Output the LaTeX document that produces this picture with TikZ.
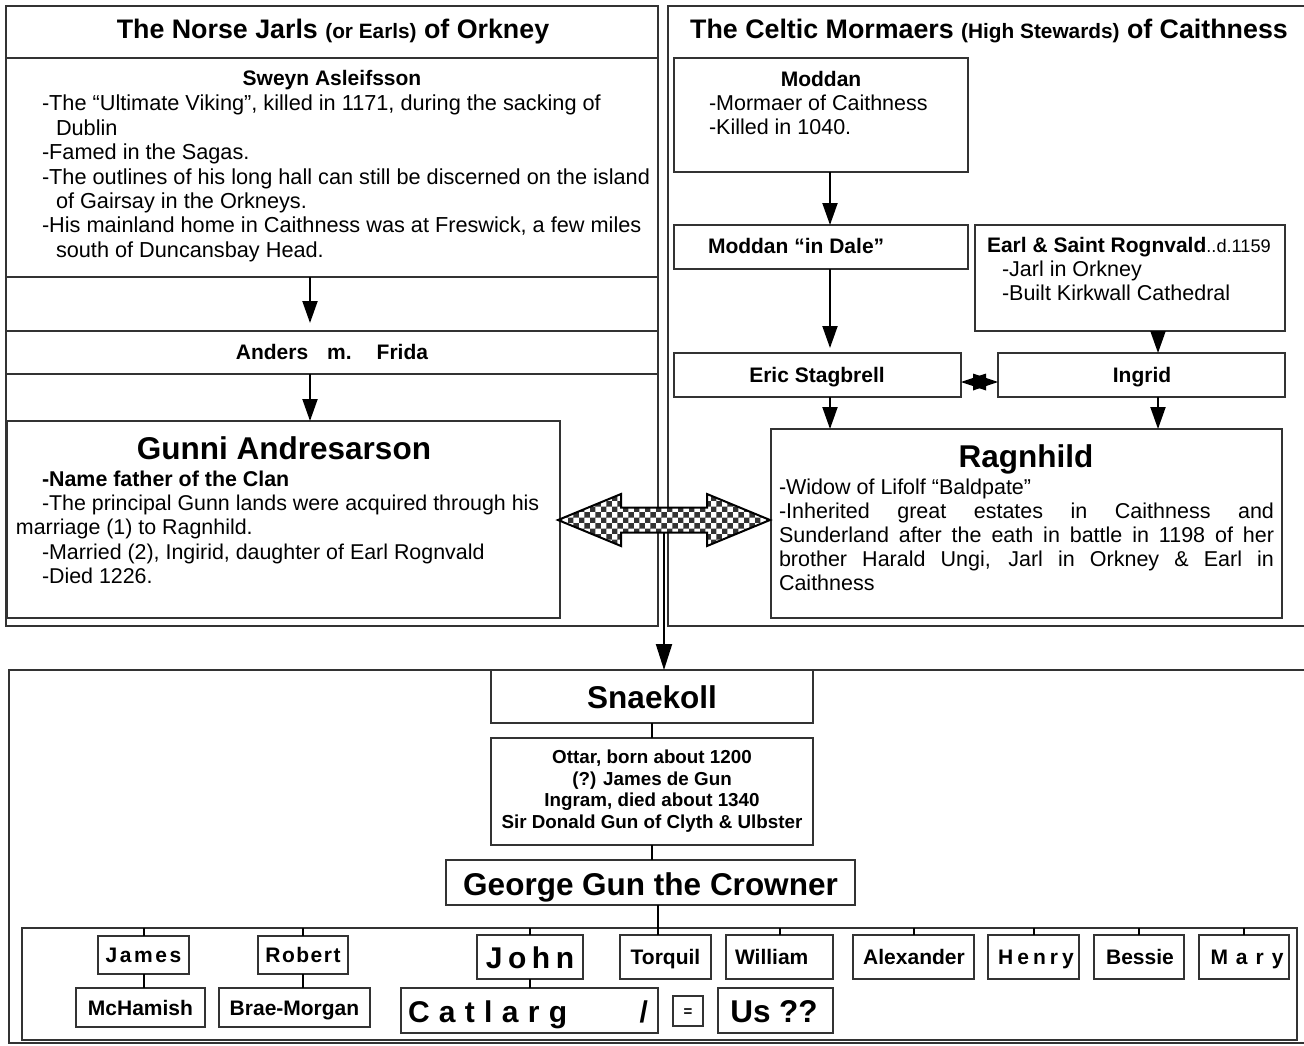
\documentclass[tikz,border=0pt]{standalone}
\usepackage{fontspec}
\setmainfont{Liberation Sans}
\usetikzlibrary{arrows.meta,patterns,fit}
\newcommand\fs[1]{\fontsize{#1}{#1}\selectfont}
\newcommand\mkbox[5]{\path (#2,#3) coordinate (#1-nw) (#4,#5) coordinate (#1-se); \node[box, fit=(#1-nw)(#1-se)] (#1) {};}
\tikzset{
 box/.style={draw=black!80, line width=1.3pt, inner sep=0pt, outer sep=0pt},
 txt/.style={inner sep=0pt, outer sep=0pt, anchor=base west},
 ctxt/.style={inner sep=0pt, outer sep=0pt, anchor=base},
 arr/.style={line width=2pt, -{Triangle[length=22pt,width=15pt]}},
 conn/.style={line width=2pt},
 body/.style={font=\fs{21.5}},
 sbody/.style={font=\fs{21.7}},
 gbody/.style={font=\fs{21.4}},
 bname/.style={font=\fs{21}\bfseries},
 big/.style={font=\fs{31.5}\bfseries},
 ptitle/.style={font=\fs{26.8}\bfseries},
}
\begin{document}
\begin{tikzpicture}[x=1pt,y=-1pt]
\useasboundingbox (0,0) rectangle (1304,1045);
% ---------------- left panel
\mkbox{lp}{6}{6}{658}{626}
\mkbox{sweyn}{6}{58}{658}{277}
\mkbox{anders}{6}{331}{658}{374}
\mkbox{gunni}{7}{421}{560}{618}
\node[ctxt,ptitle] (ltitle) at (333,38) {The Norse Jarls {\fs{20.8}(or Earls)} of Orkney};
\node[ctxt,bname] (sw0) at (332,85) {Sweyn Asleifsson};
\node[txt,sbody] (sw1) at (42,110.5) {-The “Ultimate Viking”, killed in 1171, during the sacking of};
\node[txt,sbody] (sw2) at (56,135) {Dublin};
\node[txt,sbody] (sw3) at (42,159) {-Famed in the Sagas.};
\node[txt,sbody] (sw4) at (42,184) {-The outlines of his long hall can still be discerned on the island};
\node[txt,sbody] (sw5) at (56,208) {of Gairsay in the Orkneys.};
\node[txt,sbody] (sw6) at (42,232) {-His mainland home in Caithness was at Freswick, a few miles};
\node[txt,sbody] (sw7) at (56,257) {south of Duncansbay Head.};
\node[ctxt,bname] (an0) at (332,359.5) {Anders\hspace{19pt}m.\hspace{25pt}Frida};
\coordinate (ax) at (310,0);
\draw[arr, shorten >=8pt] (ax |- sweyn.south) -- (ax |- anders.north);
\draw[arr] (ax |- anders.south) -- (ax |- gunni.north);
\node[ctxt,big] (gu0) at (284,459.5) {Gunni Andresarson};
\node[txt, font=\fs{21.4}\bfseries] (gu1) at (42,486.5) {-Name father of the Clan};
\node[txt,gbody] (gu2) at (42,510.5) {-The principal Gunn lands were acquired through his};
\node[txt,gbody] (gu3) at (16,534.5) {marriage (1) to Ragnhild.};
\node[txt,gbody] (gu4) at (42,559) {-Married (2), Ingirid, daughter of Earl Rognvald};
\node[txt,gbody] (gu5) at (42,583.5) {-Died 1226.};
% ---------------- right panel
\mkbox{rp}{668}{6}{1312}{626}
\node[ctxt,ptitle] (rtitle) at (989,38) {The Celtic Mormaers {\fs{20.8}(High Stewards)} of Caithness};
\mkbox{moddan}{674}{58}{968}{172}
\node[ctxt,bname] (mo0) at (821,86.5) {Moddan};
\node[txt,body] (mo1) at (709,110.5) {-Mormaer of Caithness};
\node[txt,body] (mo2) at (709,134.5) {-Killed in 1040.};
\mkbox{dale}{674}{225}{968}{269}
\node[txt,bname] (da0) at (708,253.5) {Moddan “in Dale”};
\mkbox{earl}{975}{225}{1285}{331}
\node[txt,bname] (ea0) at (987,252) {Earl \& Saint Rognvald{\mdseries\fs{18.2}..d.1159}};
\node[txt,body] (ea1) at (1002,276.5) {-Jarl in Orkney};
\node[txt,body] (ea2) at (1002,300.5) {-Built Kirkwall Cathedral};
\mkbox{eric}{674}{353}{961}{397}
\node[ctxt,bname] (er0) at (817,382.5) {Eric Stagbrell};
\mkbox{ingrid}{998}{353}{1285}{397}
\node[ctxt,bname] (in0) at (1142,382.5) {Ingrid};
\mkbox{ragn}{771}{429}{1282}{618}
\node[ctxt,big] (ra0) at (1026,467) {Ragnhild};
\node[txt,body] (ra1) at (779,494.5) {-Widow of Lifolf “Baldpate”};
\node[txt,body] (ra2) at (779,518) {\makebox[495pt][s]{-Inherited great estates in Caithness and}};
\node[txt,body] (ra3) at (779,542) {\makebox[495pt][s]{Sunderland after the eath in battle in 1198 of her}};
\node[txt,body] (ra4) at (779,566) {\makebox[495pt][s]{brother Harald Ungi, Jarl in Orkney \& Earl in}};
\node[txt,body] (ra5) at (779,590.5) {Caithness};
\coordinate (mx) at (830,0);
\coordinate (ix) at (1158,0);
\draw[arr] (mx |- moddan.south) -- (mx |- dale.north);
\draw[arr, shorten >=5pt] (mx |- dale.south) -- (mx |- eric.north);
\draw[arr] (ix |- earl.south) -- (ix |- ingrid.north);
\draw[arr] (mx |- eric.south) -- (mx |- ragn.north);
\draw[arr] (ix |- ingrid.south) -- (ix |- ragn.north);
\coordinate (sl) at (eric.east |- 0,382);
\coordinate (sr) at (ingrid.west |- 0,382);
\fill (sl) -- ++(25,-8.5) -- ++(0,17) -- cycle;
\fill (sr) -- ++(-25,-8.5) -- ++(0,17) -- cycle;
% ---------------- bottom panel
\mkbox{bp}{9}{670}{1312}{1043}
\mkbox{snae}{491}{670}{813}{723}
\node[ctxt,big] (sn0) at (652,708) {Snaekoll};
\mkbox{ottar}{491}{738}{813}{845}
\node[ctxt, font=\fs{18.8}\bfseries] (ot1) at (652,763.5) {Ottar, born about 1200};
\node[ctxt, font=\fs{18.8}\bfseries] (ot2) at (652,785.5) {(?) James de Gun};
\node[ctxt, font=\fs{18.8}\bfseries] (ot3) at (652,806.5) {Ingram, died about 1340};
\node[ctxt, font=\fs{18.8}\bfseries] (ot4) at (652,828.5) {Sir Donald Gun of Clyth \& Ulbster};
\mkbox{george}{446}{860}{855}{905}
\node[ctxt,big] (ge0) at (650.5,895) {George Gun the Crowner};
\mkbox{kids}{22}{928}{1297}{1040}
\mkbox{james}{98}{936}{189}{974}
\mkbox{mchamish}{76}{988}{205}{1027}
\mkbox{robert}{258}{936}{348}{974}
\mkbox{brae}{219}{988}{370}{1027}
\mkbox{john}{477}{935}{583}{979}
\mkbox{catlarg}{401}{988}{658}{1033}
\mkbox{torquil}{620}{935}{711}{979}
\mkbox{william}{726}{935}{833}{979}
\mkbox{alex}{853}{935}{974}{979}
\mkbox{henry}{988}{935}{1079}{979}
\mkbox{bessie}{1094}{935}{1184}{979}
\mkbox{mary}{1199}{935}{1289}{979}
\mkbox{eq}{673}{996}{703}{1026}
\mkbox{us}{718}{988}{833}{1033}
\node[ctxt,bname] (t-james) at (143.5,962) {J\kern2.6pt a\kern2.6pt m\kern2.6pt e\kern2.6pt s};
\node[ctxt,bname] (t-mch) at (140.5,1015.5) {McHamish};
\node[ctxt,bname] (t-rob) at (303,962.5) {R\kern1.5pt o\kern1.5pt b\kern1.5pt e\kern1.5pt r\kern1.5pt t};
\node[ctxt,bname] (t-brae) at (294.5,1015.5) {Brae-Morgan};
\node[ctxt, font=\fs{30}\bfseries] (t-john) at (530,968) {J\kern5.5pt o\kern5.5pt h\kern5.5pt n};
\node[txt, font=\fs{30}\bfseries] (t-cat) at (408,1022) {\makebox[240pt][l]{C\hspace{9.3pt}a\hspace{9.3pt}t\hspace{9.3pt}l\hspace{9.3pt}a\hspace{9.3pt}r\hspace{9.3pt}g\hfill/}};
\node[ctxt,bname] (t-tor) at (665.5,964.5) {Torquil};
\node[txt,bname] (t-wil) at (735,964.5) {William};
\node[ctxt,bname] (t-alex) at (914,964.5) {Alexander};
\node[ctxt,bname] (t-hen) at (1036,964.5) {H\hspace{4pt}e\hspace{4pt}n\hspace{4pt}r\hspace{4pt}y};
\node[ctxt,bname] (t-bes) at (1140,964.5) {Bessie};
\node[ctxt,bname] (t-mary) at (1247,964.5) {M\hspace{8pt}a\hspace{8pt}r\hspace{8pt}y};
\node[ctxt, font=\fs{15}\bfseries] (t-eq) at (688,1016) {=};
\node[ctxt,big] (t-us) at (774,1022) {Us ??};
\draw[conn] (snae.south) -- (snae.south |- ottar.north);
\draw[conn] (ottar.south) -- (ottar.south |- george.north);
\coordinate (gx) at (658,0);
\draw[conn] (gx |- george.south) -- (gx |- torquil.north);
\foreach \c in {james,robert,john,william,alex,henry,bessie,mary}
  \draw[conn] (\c.north) -- (\c.north |- kids.north);
\draw[conn] (james.south) -- (james.south |- mchamish.north);
\draw[conn] (robert.south) -- (robert.south |- brae.north);
\draw[conn] (john.south) -- (john.south |- catlarg.north);
% ---------------- big double arrow
\coordinate (bc) at (664,520);
\draw[line width=2pt, -{Triangle[length=26pt,width=16pt]}] (bc) -- (bc |- snae.north);
\draw[line width=2pt, preaction={fill=white}, pattern=checkerboard, pattern color=black!80]
  (bc) ++(-106,0) -- ++(63,-26) -- ++(0,13.5) -- ++(86,0) -- ++(0,-13.5) -- ++(63,26)
  -- ++(-63,26) -- ++(0,-13.5) -- ++(-86,0) -- ++(0,13.5) -- cycle;
\end{tikzpicture}
\end{document}
